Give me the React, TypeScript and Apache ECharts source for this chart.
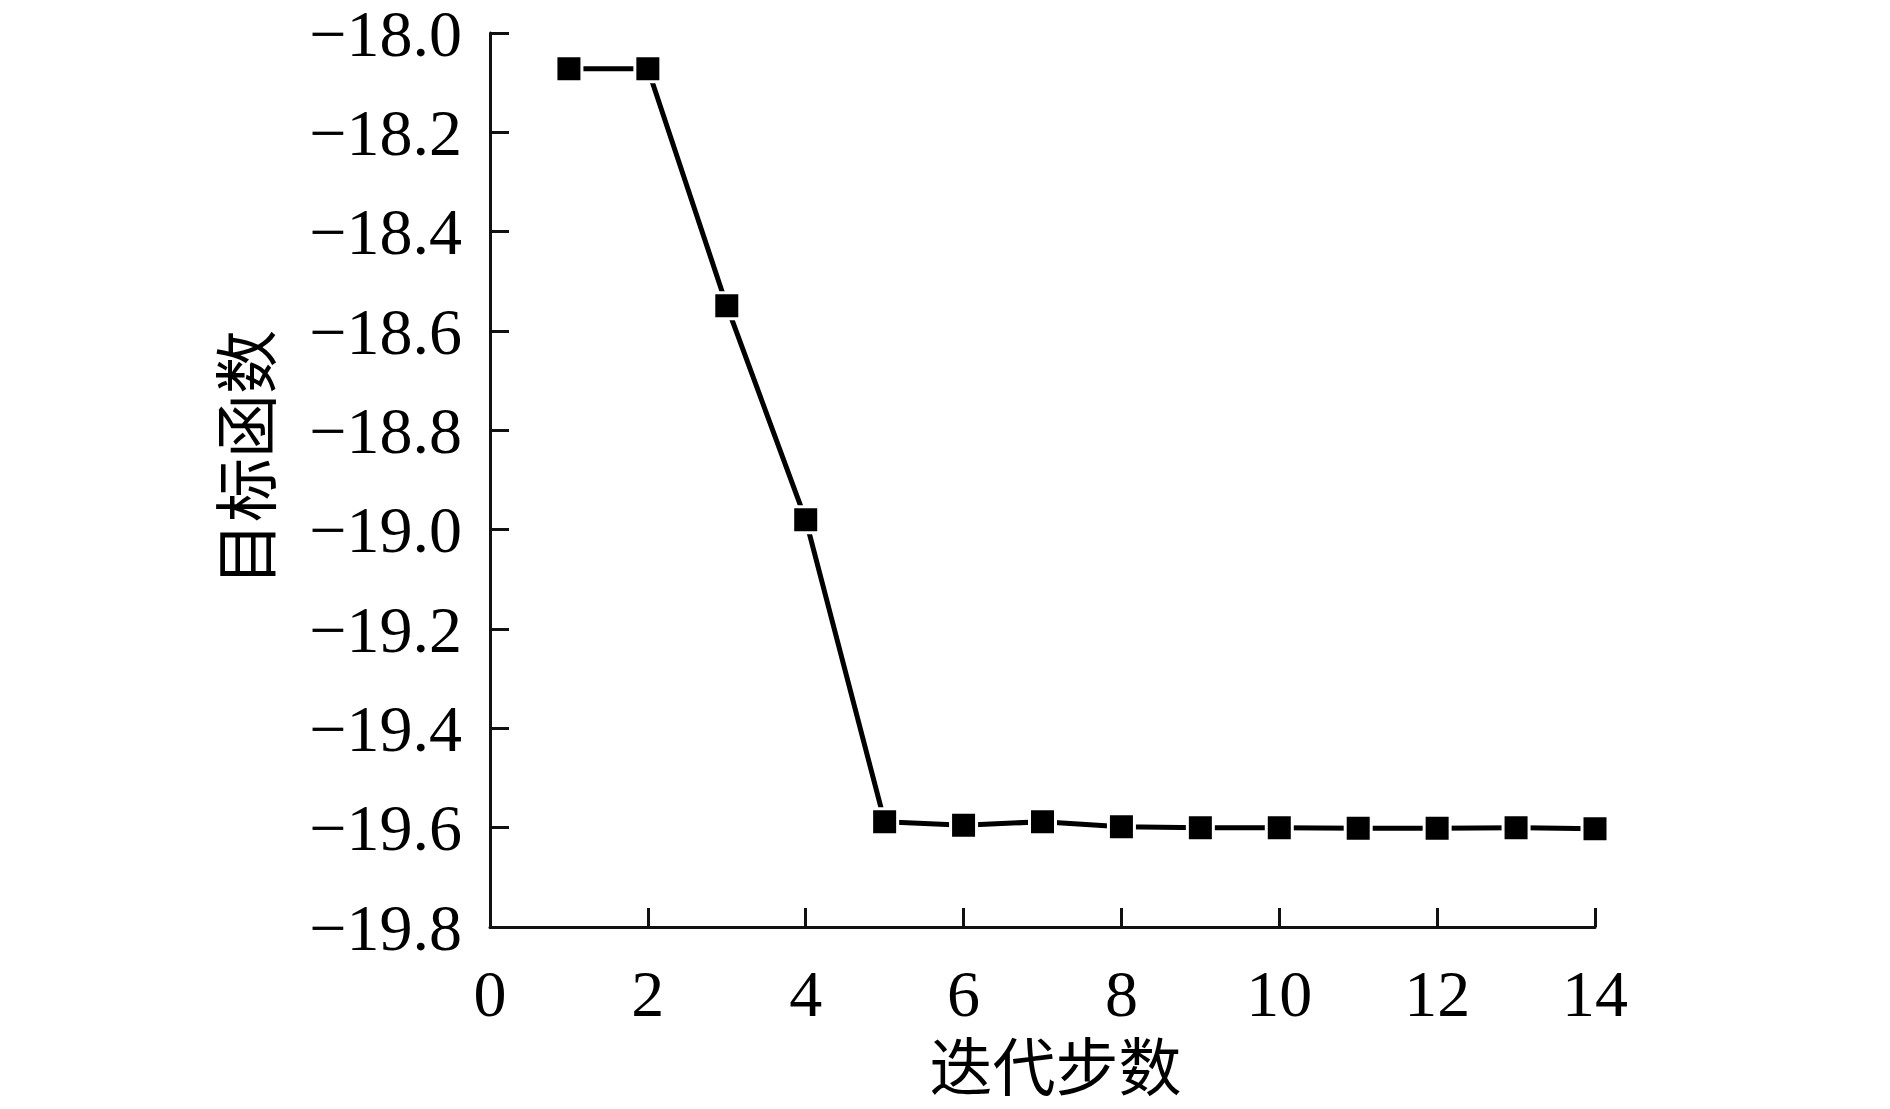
import React, { useEffect, useRef } from "react";
import * as echarts from "echarts";

const steps = [1, 2, 3, 4, 5, 6, 7, 8, 9, 10, 11, 12, 13, 14];
const objective = [
  -18.072, -18.072, -18.549, -18.98, -19.588, -19.595, -19.588, -19.598,
  -19.6, -19.6, -19.601, -19.601, -19.6, -19.602,
];
const xAxisName = "迭代步数";
const yAxisName = "目标函数";

const serif = '"Liberation Serif", "Times New Roman", "Noto Sans CJK SC", serif';
const cjk = '"Noto Sans CJK SC", "Liberation Serif", sans-serif';

export default function App() {
  const ref = useRef<HTMLDivElement>(null);
  useEffect(() => {
    if (!ref.current) return;
    const chart = echarts.init(ref.current, undefined, { renderer: "svg" });
    const axisCommon = {
      axisLine: { show: true, lineStyle: { color: "#111", width: 3 } },
      axisTick: { show: true, inside: true, length: 19, lineStyle: { color: "#111", width: 3 } },
      splitLine: { show: false },
    };
    chart.setOption({
      animation: false,
      backgroundColor: "#fff",
      grid: { left: 490, top: 33, right: 295, bottom: 182, containLabel: false },
      xAxis: {
        type: "value",
        min: 0,
        max: 14,
        interval: 2,
        ...axisCommon,
        axisLabel: {
          margin: 33,
          fontFamily: serif,
          fontSize: 66,
          color: "#000",
        },
        name: xAxisName,
        nameLocation: "middle",
        nameGap: 103,
        nameTextStyle: { fontFamily: cjk, fontSize: 63, color: "#000", padding: [0, 0, 0, 26] },
      },
      yAxis: {
        type: "value",
        min: -19.8,
        max: -18.0,
        interval: 0.2,
        ...axisCommon,
        axisLabel: {
          margin: 28,
          fontFamily: serif,
          fontSize: 66,
          color: "#000",
          formatter: (v: number) => (v < 0 ? "\u2212" : "") + Math.abs(v).toFixed(1),
        },
        name: yAxisName,
        nameLocation: "middle",
        nameGap: 216,
        nameTextStyle: { fontFamily: cjk, fontSize: 64, color: "#000", padding: [0, 0, 0, 44] },
      },
      series: [
        {
          type: "line",
          data: steps.map((s, i) => [s, objective[i]]),
          symbol: "rect",
          symbolSize: 26,
          lineStyle: { color: "#000", width: 5, cap: "round" },
          itemStyle: { color: "#000", borderColor: "#fff", borderWidth: 3 },
          emphasis: { disabled: true },
        },
      ],
    });
    return () => chart.dispose();
  }, []);
  return (
    <div
      ref={ref}
      style={{ position: "absolute", left: 0, top: 0, width: 1890, height: 1109 }}
    />
  );
}
